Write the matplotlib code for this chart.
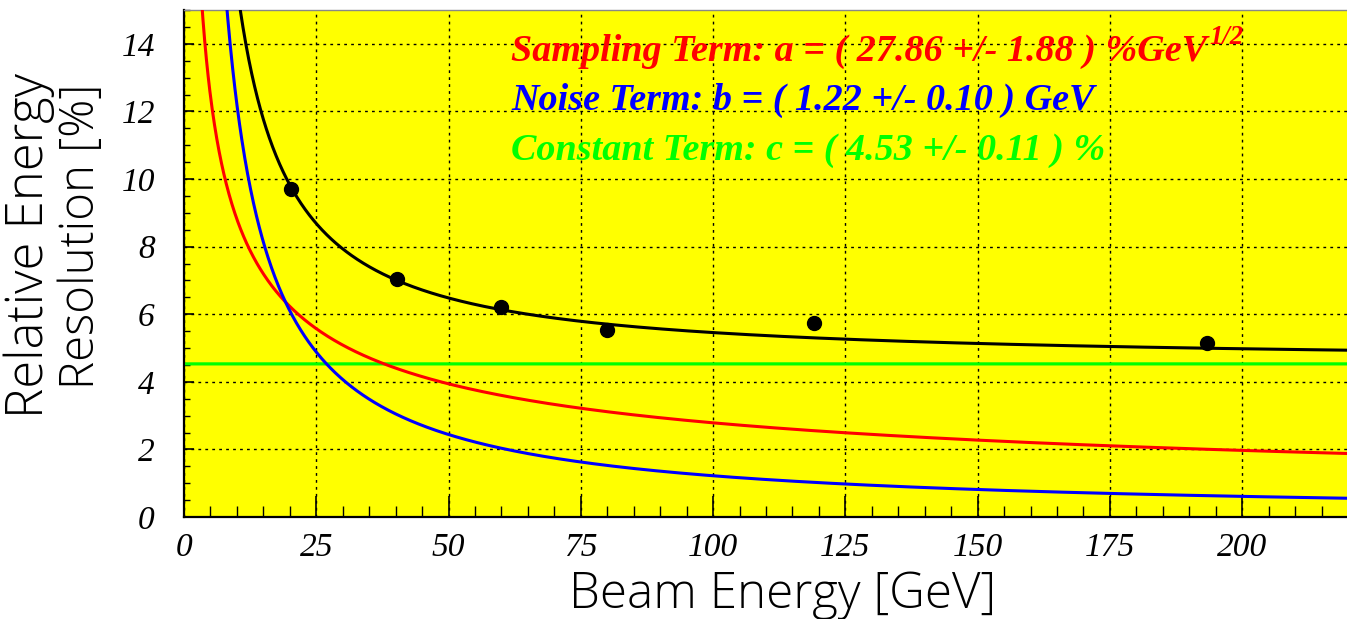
import numpy as np
import matplotlib
matplotlib.use("Agg")
import matplotlib.pyplot as plt
from matplotlib.ticker import MultipleLocator

# ---- data ----
beam_energy = [20.2, 40.2, 60.0, 80.0, 119.0, 193.4]
resolution = [9.70, 7.04, 6.21, 5.53, 5.74, 5.15]
a_sampling = 27.86
b_noise = 1.22
c_const = 4.53
x_ticks = [0, 25, 50, 75, 100, 125, 150, 175, 200]
y_ticks = [0, 2, 4, 6, 8, 10, 12, 14]

W, H = 1347, 619
fig = plt.figure(figsize=(W / 100, H / 100), dpi=100)
fig.patch.set_facecolor("white")
ax = fig.add_axes([184 / W, 1 - 517 / H, (1347 - 184) / W, (517 - 10) / H])
ax.set_facecolor("#ffff00")
ax.set_xlim(0, 219.8)
ax.set_ylim(0, 15)

E = np.linspace(0.5, 220, 2000)
samp = a_sampling / np.sqrt(E)
noise = b_noise / E * 100
const = np.full_like(E, c_const)
total = np.sqrt(samp ** 2 + noise ** 2 + const ** 2)

ax.plot(E, const, color="#00ff00", lw=2.3, zorder=3)
ax.plot(E, samp, color="#ff0000", lw=2.2, zorder=3)
ax.plot(E, noise, color="#0000ff", lw=2.2, zorder=3)
ax.plot(E, total, color="black", lw=2.2, zorder=4)
ax.plot(beam_energy, resolution, "o", color="black", ms=10, zorder=5)

ax.set_xticks(x_ticks)
ax.set_yticks(y_ticks)
ax.xaxis.set_minor_locator(MultipleLocator(5))
ax.yaxis.set_minor_locator(MultipleLocator(0.5))
ax.grid(True, which="major", color="black", linestyle=(0, (2, 3)), lw=1.0, zorder=1)
ax.set_axisbelow(True)

tfont = dict(family="Liberation Serif", style="italic", size=24)
ax.set_xticklabels([str(t) for t in x_ticks], **tfont)
ax.set_yticklabels([str(t) for t in y_ticks], **tfont)
ax.tick_params(axis="x", which="major", direction="in", length=15, width=1.2, pad=11, color="black")
ax.tick_params(axis="x", which="minor", direction="in", length=8, width=1.0, color="black")
ax.tick_params(axis="y", which="major", direction="in", length=7.5, width=1.2, pad=21, color="black")
ax.tick_params(axis="y", which="minor", direction="in", length=4.5, width=1.0, color="black")

for s in ["left", "bottom"]:
    ax.spines[s].set_linewidth(1.6)
    ax.spines[s].set_color("black")
ax.spines["top"].set_color("#888888")
ax.spines["top"].set_linewidth(1.0)
ax.spines["right"].set_visible(False)

renderer = fig.canvas.get_renderer()


def fit_text(x, y, s, target, size0, vertical=False, **kw):
    t = fig.text(x / W, 1 - y / H, s, fontsize=size0, **kw)
    bb = t.get_window_extent(renderer)
    cur = bb.height if vertical else bb.width
    t.set_fontsize(size0 * target / cur)
    return t


lab_font = dict(family="Open Sans", weight="light")
fit_text(783, 608, "Beam Energy [GeV]", 427, 30, ha="center", va="baseline", **lab_font)
fit_text(29, 245, "Relative Energy", 345, 30, vertical=True, ha="center", va="center",
         rotation=90, **lab_font)
fit_text(82, 236, "Resolution [%]", 305, 30, vertical=True, ha="center", va="center",
         rotation=90, **lab_font)

tf = dict(family="Liberation Serif", style="italic", weight="bold")
red = fit_text(511, 61, "Sampling Term: a = ( 27.86 +/- 1.88 ) %GeV", 697, 26,
               color="#ff0000", va="baseline", ha="left", **tf)
fs = red.get_fontsize()
ext = red.get_window_extent(renderer)
fig.text((ext.x1 + 2) / W, 1 - 44 / H, "1/2", color="#ff0000", va="baseline", ha="left",
         fontsize=fs * 0.7, **tf)
fig.text(511 / W, 1 - 110 / H, "Noise Term: b = ( 1.22 +/- 0.10 ) GeV",
         color="#0000ff", va="baseline", ha="left", fontsize=fs, **tf)
fig.text(511 / W, 1 - 160 / H, "Constant Term: c = ( 4.53 +/- 0.11 ) %",
         color="#00ff00", va="baseline", ha="left", fontsize=fs, **tf)

fig.savefig("out.png", dpi=100)
